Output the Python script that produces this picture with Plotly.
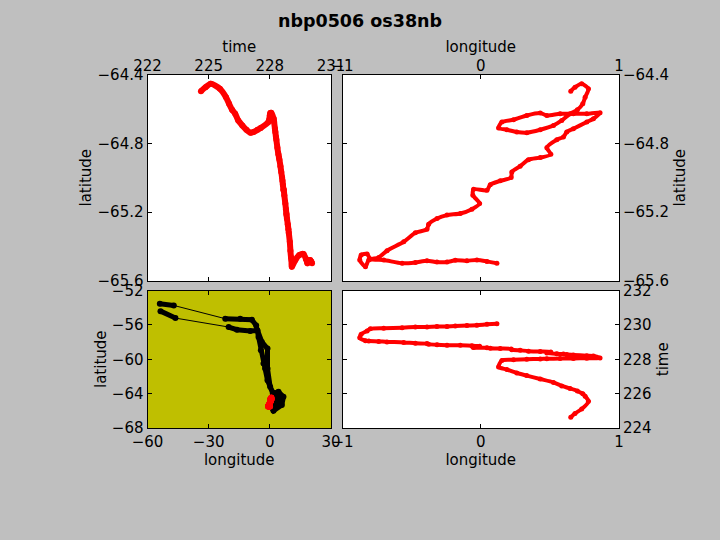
import plotly.graph_objects as go

# Red track (nbp0506 os38nb)
time = [224.62,224.85,225.1,225.55,225.85,226.0,226.15,226.3,226.45,226.65,226.85,227.05,227.2,227.4,227.55,
        227.93,227.97,228.0,228.02,228.03,228.04,228.05,228.06,228.07,228.19,228.21,228.25,228.27,228.30,228.32,228.37,
        228.42,228.45,228.47,228.52,228.56,228.6,228.62,228.64,228.67,228.68,228.71,228.76,228.79,228.81,228.82,
        228.84,228.88,228.91,228.93,228.98,229.01,229.04,229.06,229.08,229.25,229.45,229.65,229.77,
        229.8,229.84,229.87,229.88,229.9,229.91,229.93,229.96,229.98,230.03,230.07]
lon = [.651,.682,.730,.779,.755,.738,.699,.646,.586,.526,.430,.333,.261,.189,.129,
       .153,.237,.333,.430,.478,.574,.670,.767,.863,.815,.767,.670,.622,.598,.550,.478,
       .507,.430,.345,.285,.225,.220,.141,.069,.045,-.052,-.057,-.008,-.064,-.148,-.244,
       -.316,-.377,-.389,-.473,-.557,-.678,-.738,-.810,-.834,-.875,-.865,-.822,-.798,
       -.702,-.569,-.473,-.389,-.317,-.244,-.184,-.100,-.028,.045,.117]
lat = [-64.497,-64.474,-64.454,-64.483,-64.532,-64.570,-64.605,-64.628,-64.667,-64.696,-64.721,-64.738,-64.734,-64.721,-64.711,
       -64.676,-64.663,-64.638,-64.624,-64.638,-64.628,-64.628,-64.628,-64.622,-64.657,-64.676,-64.715,-64.734,-64.763,-64.779,-64.825,
       -64.864,-64.883,-64.895,-64.933,-64.966,-64.999,-65.018,-65.040,-65.073,-65.067,-65.101,-65.150,-65.183,-65.208,-65.217,
       -65.237,-65.270,-65.299,-65.320,-65.372,-65.424,-65.463,-65.478,-65.517,-65.478,-65.449,-65.443,-65.472,
       -65.478,-65.497,-65.492,-65.482,-65.490,-65.490,-65.480,-65.482,-65.478,-65.486,-65.497]

# Black underlying ship track (bottom-left panel)
ship_lon = [-53.96,-47.1,-21.85,-14.51,-8.81,-6.69,-5.55,-4.40,-3.10,-2.29,-1.14,1.46,4.24,6.68,5.87,1.79,0.16,4.24,5.05,2.61,
            1.79,0.16,-1.14,-1.14,-3.92,-6.03,-9.62,-16.14,-20.22,-46.3,-53.63]
ship_lat = [-53.55,-53.74,-55.28,-55.28,-55.40,-56.06,-57.41,-58.96,-60.50,-61.08,-62.44,-63.98,-63.79,-64.37,-65.33,-65.99,-65.45,-64.17,-64.95,-65.33,
            -63.98,-63.21,-61.08,-58.76,-57.99,-56.64,-56.71,-56.56,-56.25,-55.21,-54.40]

title_text = "nbp0506 os38nb"
lon_ticks = [-1,0,1]
wide_lon_ticks = [-60,-30,0,30]
time_ticks_x = [222,225,228,231]
time_ticks_y = [224,226,228,230,232]
lat_ticks = [-64.4,-64.8,-65.2,-65.6]
wide_lat_ticks = [-52,-56,-60,-64,-68]

W, H = 720, 540
RED = "#ff0000"
GRAY = "#bfbfbf"
FONT = "DejaVu Sans"
TS = 15

def dx(a, b): return [a / W, b / W]
def dy(top, bot): return [1 - bot / H, 1 - top / H]

def axis(rng, ticks, dom, side, title, anchor, standoff, lab=0):
    return dict(range=rng, tickvals=ticks, domain=dom, side=side, anchor=anchor,
                title=dict(text=title, standoff=standoff, font=dict(size=TS, color="black", family=FONT)),
                ticks="inside", ticklen=4, tickwidth=1, tickcolor="black", mirror="ticks",
                showline=True, linecolor="black", linewidth=1, showgrid=False, zeroline=False,
                ticklabelstandoff=lab,
                tickfont=dict(size=TS, color="black", family=FONT), automargin=False)

def red(x, y, xa, ya, w, ms):
    return go.Scatter(x=x, y=y, xaxis=xa, yaxis=ya, mode="lines+markers", showlegend=False,
                      line=dict(color=RED, width=w, shape="spline", smoothing=0.7),
                      marker=dict(color=RED, size=ms))

thick_lon = ship_lon[:2] + [None] + ship_lon[2:-2] + [None] + ship_lon[-2:]
thick_lat = ship_lat[:2] + [None] + ship_lat[2:-2] + [None] + ship_lat[-2:]

fig = go.Figure()
fig.add_trace(red(time, lat, "x", "y", 6, 6))
fig.add_trace(red(lon, lat, "x2", "y2", 4, 5))
fig.add_trace(go.Scatter(x=ship_lon, y=ship_lat, xaxis="x3", yaxis="y3", mode="lines", showlegend=False,
                         line=dict(color="black", width=1)))
fig.add_trace(go.Scatter(x=thick_lon, y=thick_lat, xaxis="x3", yaxis="y3", mode="lines+markers", showlegend=False,
                         line=dict(color="black", width=5), marker=dict(color="black", size=6)))
fig.add_trace(red(lon, lat, "x3", "y3", 5, 6))
fig.add_trace(red(lon, time, "x4", "y4", 4, 5))

fig.update_layout(
    width=W, height=H, margin=dict(l=0, r=0, t=0, b=0, pad=0), autosize=False,
    paper_bgcolor=GRAY, plot_bgcolor="white", showlegend=False,
    font=dict(family=FONT, color="black"),
    title=dict(text="<b>%s</b>" % title_text, x=0.5, xanchor="center", y=1 - 21 / H, yanchor="middle",
               font=dict(size=17.5, family=FONT, color="black")),
    xaxis=axis([222, 231], time_ticks_x, dx(147.5, 331), "top", "time", "y", 0, -3),
    yaxis=axis([-65.6, -64.4], lat_ticks, dy(74.5, 281), "left", "latitude", "x", 2),
    xaxis2=axis([-1, 1], lon_ticks, dx(342.5, 619), "top", "longitude", "y2", 0, -3),
    yaxis2=axis([-65.6, -64.4], lat_ticks, dy(74.5, 281), "right", "latitude", "x2", 6),
    xaxis3=axis([-60, 30], wide_lon_ticks, dx(147.5, 331), "bottom", "longitude", "y3", 3),
    yaxis3=axis([-68, -52], wide_lat_ticks, dy(290.5, 428), "left", "latitude", "x3", 1),
    xaxis4=axis([-1, 1], lon_ticks, dx(342.5, 619), "bottom", "longitude", "y4", 3),
    yaxis4=axis([224, 232], time_ticks_y, dy(290.5, 428), "right", "time", "x4", 6),
)
fig.add_shape(type="rect", xref="x3 domain", yref="y3 domain", x0=0, x1=1, y0=0, y1=1,
              fillcolor="#bfbf00", line=dict(width=0), layer="below")
fig.write_html("out.html", config={"displayModeBar": False},
               post_script="document.body.style.margin='0';document.body.style.background='#bfbfbf';")
